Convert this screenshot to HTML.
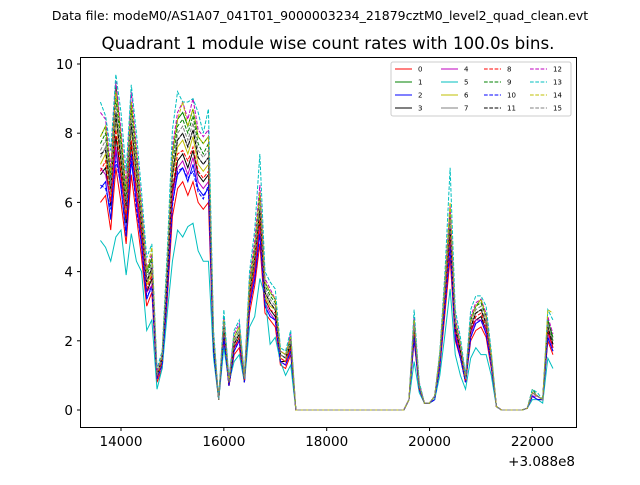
<!DOCTYPE html>
<html><head><meta charset="utf-8"><style>
body{margin:0;background:#fff;}
svg text{font-family:"DejaVu Sans","Liberation Sans",sans-serif;}
</style></head><body>
<svg id="chart" width="640" height="480" viewBox="0 0 640 480">
<rect width="640" height="480" fill="#fff"/>
<text x="320" y="20" font-size="12.5" text-anchor="middle">Data file: modeM0/AS1A07_041T01_9000003234_21879cztM0_level2_quad_clean.evt</text>
<text x="328" y="49" font-size="16.7" text-anchor="middle">Quadrant 1 module wise count rates with 100.0s bins.</text>
<g id="series"></g>
<rect x="80.5" y="57.5" width="496" height="370" fill="none" stroke="#000" stroke-width="1"/>
<g id="xticks"></g>
<g id="yticks"></g>
<text x="575" y="466" font-size="13.5" text-anchor="end">+3.088e8</text>
<g id="legend"></g>
</svg>
<script>
const startTime = 13600, stepTime = 100, nPoints = 89;
const xTickValues = [14000, 16000, 18000, 20000, 22000];
const xTickLabels = ["14000", "16000", "18000", "20000", "22000"];
const yTickValues = [0, 2, 4, 6, 8, 10];
const yTickLabels = ["0", "2", "4", "6", "8", "10"];
const seriesNames = ["0","1","2","3","4","5","6","7","8","9","10","11","12","13","14","15"];
const Z20 = [0,0,0,0,0,0,0,0,0,0,0,0,0,0,0,0,0,0,0,0];
const s0 = [6.0,6.2,5.2,7.0,6.0,4.8,6.8,5.6,4.4,3.0,3.4,0.8,1.2,3.2,5.6,6.4,6.6,6.2,6.6,6.0,5.8,6.0,1.6,0.3,2.0,0.7,1.6,1.8,0.8,2.8,3.6,4.8,2.8,2.6,2.4,1.3,1.2,1.6,0,0].concat(Z20,[0.3,2.0,0.6,0.2,0.2,0.3,1.2,2.8,4.4,2.0,1.5,0.8,2.0,2.3,2.4,2.1,1.2,0.1,0,0,0,0,0,0.05,0.4,0.3,0.3,2.0,1.6]);
const s1 = [7.9,8.2,6.8,9.4,7.9,6.3,8.9,7.4,5.8,4.0,4.4,1.0,1.6,4.2,7.4,8.4,8.6,8.2,8.7,7.9,7.7,7.9,2.1,0.3,2.6,0.8,2.1,2.4,0.9,3.7,4.7,6.3,3.7,3.4,3.2,1.7,1.6,2.1,0,0].concat(Z20,[0.3,2.6,0.7,0.2,0.2,0.4,1.6,3.7,5.8,2.6,1.9,0.9,2.6,3.0,3.2,2.7,1.6,0.1,0,0,0,0,0,0.05,0.5,0.4,0.3,2.6,2.1]);
const s2 = [6.4,6.6,5.5,7.5,6.4,5.1,7.2,6.0,4.7,3.2,3.6,0.9,1.3,3.4,6.0,6.8,7.0,6.6,7.1,6.4,6.2,6.4,1.7,0.3,2.1,0.7,1.7,2.0,0.8,3.0,3.8,5.1,3.0,2.7,2.6,1.4,1.3,1.7,0,0].concat(Z20,[0.3,2.1,0.6,0.2,0.2,0.3,1.3,3.0,4.7,2.1,1.5,0.8,2.1,2.5,2.6,2.2,1.3,0.1,0,0,0,0,0,0.05,0.4,0.3,0.3,2.1,1.7]);
const s3 = [6.8,7.0,5.9,7.9,6.8,5.4,7.7,6.3,5.0,3.4,3.8,0.9,1.4,3.6,6.3,7.2,7.4,7.0,7.5,6.8,6.6,6.8,1.8,0.3,2.3,0.7,1.8,2.1,0.8,3.2,4.1,5.4,3.2,2.9,2.7,1.4,1.4,1.8,0,0].concat(Z20,[0.3,2.3,0.6,0.2,0.2,0.4,1.4,3.2,5.0,2.3,1.6,0.8,2.3,2.6,2.7,2.3,1.4,0.1,0,0,0,0,0,0.05,0.5,0.4,0.3,2.3,1.8]);
const s4 = [7.0,6.8,6.0,7.6,6.6,5.6,7.4,6.2,4.8,3.4,3.6,0.9,1.3,3.5,6.2,7.0,7.2,6.8,7.3,6.6,6.4,6.6,1.8,0.3,2.2,0.7,1.8,2.0,0.8,3.1,4.0,5.3,3.1,2.8,2.6,1.4,1.3,1.8,0,0].concat(Z20,[0.3,2.2,0.6,0.2,0.2,0.4,1.3,3.1,4.8,2.2,1.6,0.8,2.2,2.6,2.6,2.3,1.3,0.1,0,0,0,0,0,0.05,0.4,0.4,0.3,2.2,1.8]);
const s5 = [4.9,4.7,4.3,5.0,5.2,3.9,5.1,4.3,4.0,2.3,2.6,0.6,1.2,2.8,4.3,5.2,5.0,5.3,5.4,4.6,4.3,4.3,1.5,0.3,1.8,0.8,1.4,1.6,0.8,2.4,2.7,3.8,3.3,1.9,2.1,1.4,1.0,1.3,0,0].concat(Z20,[0.3,1.4,0.5,0.2,0.2,0.3,1.0,2.2,3.5,1.6,1.0,0.6,1.5,1.8,1.6,1.6,1.0,0.1,0,0,0,0,0,0.05,0.3,0.3,0.2,1.5,1.2]);
const s6 = [7.1,7.4,6.2,8.4,7.1,5.7,8.1,6.7,5.2,3.6,4.0,1.0,1.4,3.8,6.7,7.6,7.8,7.4,7.9,7.1,6.9,7.1,1.9,0.3,2.4,0.8,1.9,2.2,0.9,3.3,4.3,5.7,3.3,3.0,2.9,1.5,1.4,1.9,0,0].concat(Z20,[0.3,2.4,0.7,0.2,0.2,0.4,1.4,3.3,5.2,2.4,1.7,0.9,2.4,2.8,2.9,2.5,1.4,0.1,0,0,0,0,0,0.05,0.5,0.4,0.3,2.4,1.9]);
const s7 = [7.3,7.6,6.3,8.5,7.3,5.8,8.2,6.8,5.3,3.7,4.1,1.0,1.5,3.9,6.8,7.8,8.0,7.6,8.1,7.3,7.1,7.3,1.9,0.3,2.4,0.8,1.9,2.2,0.9,3.4,4.4,5.8,3.4,3.1,2.9,1.6,1.5,1.9,0,0].concat(Z20,[0.3,2.4,0.7,0.2,0.2,0.4,1.5,3.4,5.3,2.4,1.7,0.9,2.4,2.8,2.9,2.5,1.5,0.1,0,0,0,0,0,0.05,0.5,0.4,0.3,2.4,1.9]);
const s8 = [6.9,7.2,6.0,8.1,6.9,5.5,7.8,6.4,5.1,3.5,3.9,0.9,1.4,3.7,6.4,7.4,7.5,7.2,7.6,6.9,6.7,6.9,1.8,0.3,2.3,0.7,1.8,2.1,0.8,3.2,4.1,5.5,3.2,2.9,2.8,1.5,1.4,1.8,0,0].concat(Z20,[0.3,2.3,0.6,0.2,0.2,0.4,1.4,3.2,5.1,2.3,1.7,0.8,2.3,2.7,2.8,2.4,1.4,0.1,0,0,0,0,0,0.05,0.5,0.4,0.3,2.3,1.8]);
const s9 = [7.7,8.0,6.6,9.0,7.7,6.1,8.7,7.1,5.6,3.9,4.3,1.0,1.5,4.1,7.1,8.2,8.4,8.0,8.5,7.7,7.4,7.7,2.0,0.3,2.6,0.8,2.0,2.3,0.9,3.6,4.6,6.1,3.6,3.3,3.1,1.6,1.5,2.0,0,0].concat(Z20,[0.3,2.6,0.7,0.2,0.2,0.4,1.5,3.6,5.6,2.6,1.8,0.9,2.6,3.0,3.1,2.7,1.5,0.1,0,0,0,0,0,0.05,0.6,0.4,0.3,2.6,2.0]);
const s10 = [6.5,6.4,5.8,7.2,6.5,5.0,7.4,5.8,4.8,3.3,3.5,0.9,1.3,3.4,5.9,6.9,7.0,6.7,6.9,6.3,6.1,6.5,1.7,0.3,2.1,0.7,1.7,2.0,0.8,3.0,3.8,5.1,3.0,2.7,2.6,1.4,1.3,1.7,0,0].concat(Z20,[0.3,2.1,0.6,0.2,0.2,0.3,1.3,3.0,4.7,2.1,1.5,0.8,2.1,2.5,2.6,2.2,1.3,0.1,0,0,0,0,0,0.05,0.4,0.3,0.3,2.1,1.7]);
const s11 = [7.4,7.5,6.4,8.6,7.2,5.9,8.3,6.9,5.4,3.7,4.1,1.0,1.5,3.9,6.8,7.8,8.0,7.6,8.1,7.3,7.1,7.3,1.9,0.3,2.4,0.8,1.9,2.2,0.9,3.4,4.4,5.8,3.4,3.1,2.9,1.6,1.5,1.9,0,0].concat(Z20,[0.3,2.4,0.7,0.2,0.2,0.4,1.5,3.4,5.3,2.4,1.7,0.9,2.4,2.8,2.9,2.5,1.5,0.1,0,0,0,0,0,0.05,0.5,0.4,0.3,2.4,1.9]);
const s12 = [8.6,8.4,7.0,9.5,8.1,6.5,9.2,7.6,5.9,4.1,4.5,1.1,1.6,4.3,7.6,8.6,8.9,8.4,9.0,8.1,7.9,8.1,2.2,0.3,2.7,0.9,2.2,2.5,1.0,3.8,4.9,6.5,3.8,3.5,3.2,1.7,1.6,2.2,0,0].concat(Z20,[0.3,2.7,0.8,0.2,0.2,0.4,1.6,3.8,5.9,2.7,1.9,1.0,2.7,3.1,3.2,2.8,1.6,0.1,0,0,0,0,0,0.05,0.5,0.4,0.3,2.7,2.2]);
const s13 = [8.9,8.5,7.5,9.7,8.6,6.9,9.4,8.0,6.3,4.4,4.8,1.2,1.7,4.6,8.1,9.2,8.9,8.9,9.0,8.6,8.0,8.7,2.3,0.3,2.9,0.9,2.3,2.6,1.0,4.0,5.2,7.4,4.0,3.7,3.5,1.8,1.7,2.3,0,0].concat(Z20,[0.3,2.9,0.8,0.2,0.2,0.4,1.7,4.0,7.0,2.9,2.1,1.0,2.9,3.3,3.3,3.0,1.7,0.1,0,0,0,0,0,0.05,0.6,0.5,0.3,2.9,2.6]);
const s14 = [7.9,8.2,6.8,9.2,7.9,6.3,8.9,7.4,5.8,4.0,4.7,1.0,1.6,4.2,7.4,8.4,8.9,8.2,8.7,7.9,7.7,7.9,2.1,0.3,2.6,0.8,2.1,2.4,0.9,3.7,4.7,6.3,3.7,3.4,3.2,1.7,1.6,2.1,0,0].concat(Z20,[0.3,2.6,0.7,0.2,0.2,0.4,1.6,3.7,6.0,2.6,1.9,0.9,2.6,3.0,3.2,2.7,1.6,0.1,0,0,0,0,0,0.05,0.5,0.4,0.3,2.9,2.8]);
const s15 = [7.5,7.8,6.5,8.8,7.5,6.0,8.5,7.0,5.5,3.8,4.2,1.0,1.5,4.0,7.0,8.0,8.2,7.8,8.3,7.5,7.3,7.5,2.0,0.3,2.5,0.8,2.0,2.3,0.9,3.5,4.5,6.0,3.5,3.2,3.0,1.6,1.5,2.0,0,0].concat(Z20,[0.3,2.5,0.7,0.2,0.2,0.4,1.5,3.5,5.5,2.5,1.8,0.9,2.5,2.9,3.0,2.6,1.5,0.1,0,0,0,0,0,0.05,0.5,0.4,0.3,2.5,2.0]);
const seriesValues = [s0,s1,s2,s3,s4,s5,s6,s7,s8,s9,s10,s11,s12,s13,s14,s15];
const colors = ["#ff0000","#008000","#0000ff","#000000","#bf00bf","#00bfbf","#bfbf00","#808080"];

const NS = "http://www.w3.org/2000/svg";
function xScale(t){ return 121 + (t - 14000) * (532.4 - 121) / 8000; }
function yScale(v){ return 410 - v * 34.6; }
function mk(tag, attrs, parent){ const e = document.createElementNS(NS, tag); for (const k in attrs) e.setAttribute(k, attrs[k]); parent.appendChild(e); return e; }

const times = [];
for (let i = 0; i < nPoints; i++) times.push(startTime + i * stepTime);

const sg = document.getElementById("series");
seriesValues.forEach((vals, si) => {
  const pts = vals.map((v, i) => xScale(times[i]).toFixed(2) + "," + yScale(v).toFixed(2)).join(" ");
  const pl = mk("polyline", {points: pts, fill: "none", stroke: colors[si % 8], "stroke-width": 1, "stroke-dasharray": si >= 8 ? "3.7,1.6" : "none"}, sg);
  
  
});

const xg = document.getElementById("xticks");
xTickValues.forEach((t, i) => {
  const x = xScale(t);
  const tk = mk("line", {x1: x, x2: x, y1: 427.5, y2: 431, stroke: "#000"}, xg);
  
  
  const tx = mk("text", {x: x, y: 446, "font-size": 13.5, "text-anchor": "middle"}, xg);
  tx.textContent = xTickLabels[i];
  
  
});
const yg = document.getElementById("yticks");
yTickValues.forEach((v, i) => {
  const y = yScale(v);
  const tk = mk("line", {x1: 77, x2: 80.5, y1: y, y2: y, stroke: "#000"}, yg);
  
  
  const tx = mk("text", {x: 73, y: y + 5, "font-size": 13.5, "text-anchor": "end"}, yg);
  tx.textContent = yTickLabels[i];
  
  
});

const lg = document.getElementById("legend");
const box = mk("rect", {x: 391, y: 62, width: 180, height: 54, rx: 2, fill: "#fff", "fill-opacity": 0.8, stroke: "#ccc", "stroke-width": 1}, lg);


const colX = [395, 441, 484, 530];
const rowY = [69, 82, 95, 108];
seriesNames.forEach((name, si) => {
  const c = Math.floor(si / 4), r = si % 4;
  const x = colX[c], y = rowY[r];
  const ln = mk("line", {x1: x, x2: x + 17, y1: y, y2: y, stroke: colors[si % 8], "stroke-width": 1, "stroke-dasharray": si >= 8 ? "3.7,1.6" : "none"}, lg);
  
  
  const tx = mk("text", {x: x + 23, y: y + 2.5, "font-size": 7}, lg);
  tx.textContent = name;
  
  
});
</script>
</body></html>
